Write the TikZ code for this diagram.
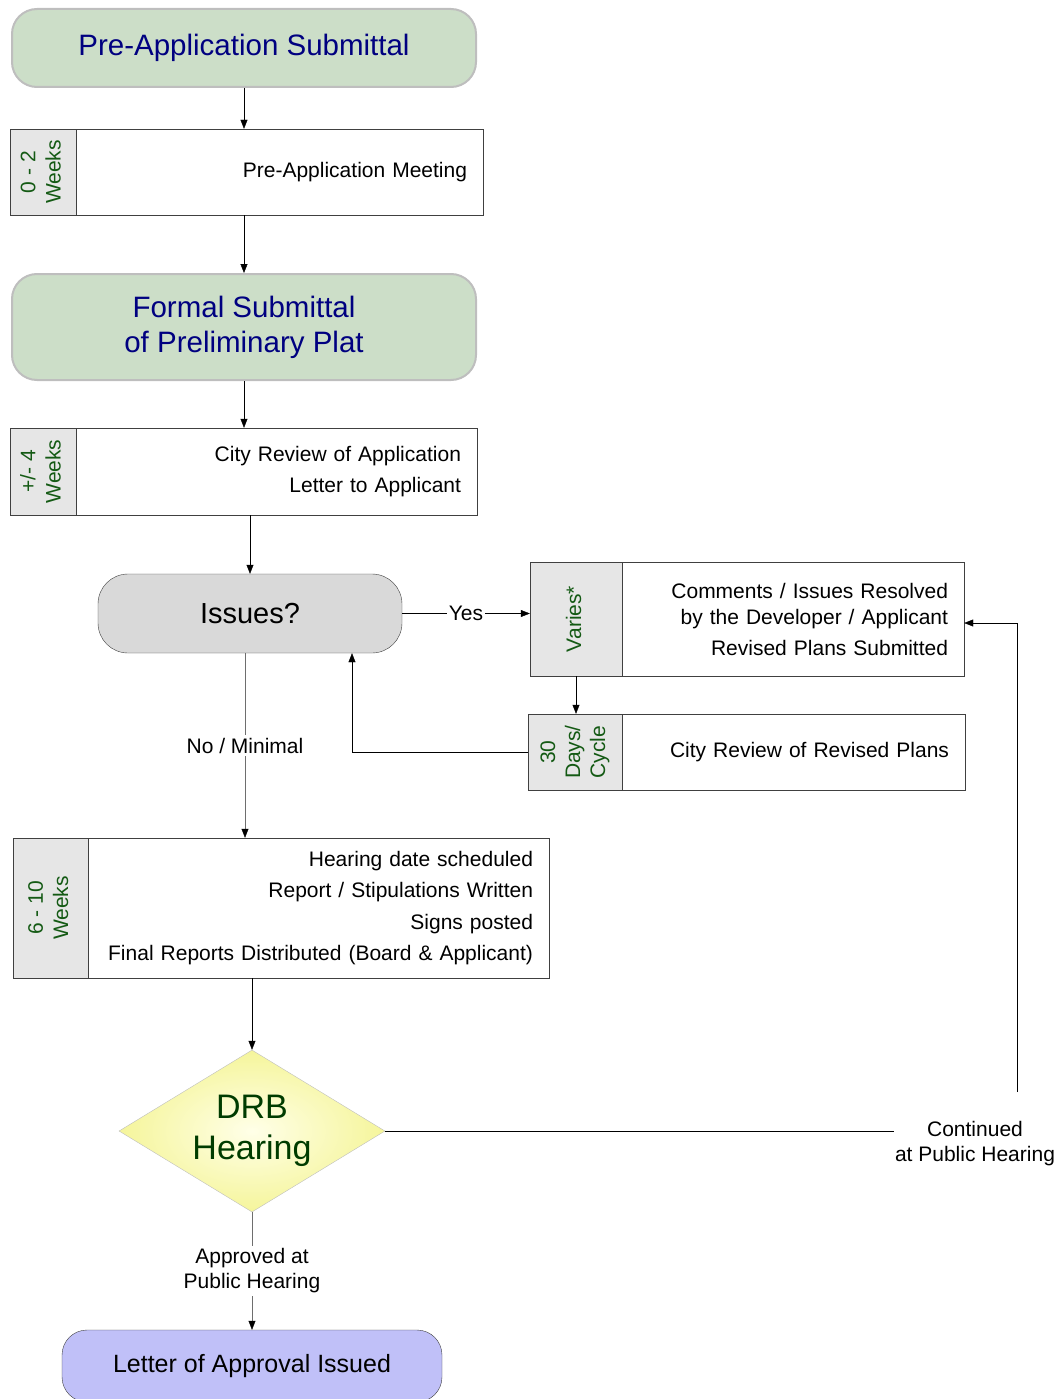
\documentclass[tikz,border=0pt]{standalone}
\usepackage{fontspec}
\setmainfont{Liberation Sans}
\usetikzlibrary{shapes.geometric,arrows.meta}
\definecolor{titleblue}{RGB}{0,0,128}
\definecolor{weekgreen}{RGB}{20,90,20}
\definecolor{drbgreen}{RGB}{0,60,0}
\definecolor{startfill}{RGB}{204,222,200}
\definecolor{startline}{RGB}{190,190,190}
\definecolor{sidefill}{RGB}{230,230,230}
\definecolor{askfill}{RGB}{217,217,217}
\definecolor{endfill}{RGB}{192,192,248}
\definecolor{boxline}{RGB}{64,64,64}
\definecolor{linkgray}{RGB}{110,110,110}
\newcommand{\sidetext}[1]{\rotatebox{90}{\fontsize{21}{25}\selectfont\begin{tabular}{@{}c@{}}#1\end{tabular}}}
\begin{document}
\begin{tikzpicture}[x=1pt,y=-1pt,
    every node/.style={font=\fontsize{21}{31}\selectfont},
    startbox/.style={rounded corners=25pt, fill=startfill, draw=startline, line width=2pt, text=titleblue, font=\fontsize{29.5}{35}\selectfont, align=center},
    sidebox/.style={draw=boxline, fill=sidefill, text=weekgreen, inner sep=0pt},
    stepbox/.style={draw=boxline, fill=white, align=right, inner xsep=16pt, inner ysep=0pt},
    arr/.style={-{Triangle[length=9pt,width=7pt,color=black]}},
    grayline/.style={draw=linkgray},
    lbl/.style={fill=white, inner xsep=2pt, inner ysep=3pt}]
    \path[use as bounding box, clip] (0,0) rectangle (1057,1399);
    % steps
    \node[startbox, minimum width=464pt, minimum height=78pt] (presub) at (244,48) {Pre-Application Submittal};
    \node[sidebox, minimum width=66pt, minimum height=86pt] (meetwk) at (43,172) {\sidetext{0 - 2\\Weeks}};
    \node[stepbox, text width=375pt, minimum height=86pt] (meet) at (279.5,172) {Pre-Application Meeting};
    \node[startbox, minimum width=464pt, minimum height=106pt] (formal) at (244,327) {Formal Submittal\\of Preliminary Plat};
    \node[sidebox, minimum width=66pt, minimum height=87pt] (reviewwk) at (43,471.5) {\sidetext{+/- 4\\Weeks}};
    \node[stepbox, text width=369pt, minimum height=87pt] (review) at (276.5,471.5) {City Review of Application\\Letter to Applicant};
    \node[draw=boxline, fill=askfill, rounded corners=30pt, minimum width=304pt, minimum height=79pt, font=\fontsize{29}{35}\selectfont] (issues) at (250,613.5) {Issues?};
    \node[sidebox, minimum width=92pt, minimum height=114pt] (varieswk) at (576,619) {\sidetext{Varies*}};
    \node[stepbox, text width=310pt, minimum height=114pt, font=\fontsize{21}{26}\selectfont] (resolve) at (793,619) {Comments / Issues Resolved\\by the Developer / Applicant\\[5pt]Revised Plans Submitted};
    \node[sidebox, minimum width=94pt, minimum height=76pt] (cyclewk) at (575,752) {\sidetext{30\\Days/\\Cycle}};
    \node[stepbox, text width=311pt, minimum height=76pt] (recheck) at (793.5,752) {City Review of Revised Plans};
    \node[sidebox, minimum width=75pt, minimum height=140pt] (hearwk) at (50.5,908) {\sidetext{6 - 10\\Weeks}};
    \node[stepbox, text width=429pt, minimum height=140pt, font=\fontsize{21}{31.5}\selectfont] (prep) at (318.5,908) {Hearing date scheduled\\Report / Stipulations Written\\Signs posted\\Final Reports Distributed (Board \& Applicant)};
    \node[diamond, draw=startline, inner color={rgb,255:red,255;green,255;blue,232}, outer color={rgb,255:red,245;green,245;blue,155}, minimum width=266pt, minimum height=162pt, inner sep=0pt, aspect=1.64, text=drbgreen, font=\fontsize{34}{41}\selectfont, align=center] (drb) at (252,1131) {DRB\\Hearing};
    \node[draw=boxline, fill=endfill, rounded corners=25pt, minimum width=380pt, minimum height=72pt, font=\fontsize{25}{30}\selectfont] (letter) at (252,1366) {Letter of Approval Issued};
    \node[align=center, inner sep=1pt, font=\fontsize{21}{25}\selectfont] (cont) at (975,1143.5) {Continued\\at Public Hearing};
    \coordinate (back) at (1017,1092);
    \coordinate (nofork) at ([xshift=-5pt]issues.south);
    % connectors
    \draw[arr] (presub.south) -- (presub.south |- meet.north);
    \draw[arr] (formal.north |- meet.south) -- (formal.north);
    \draw[arr] (formal.south) -- (formal.south |- review.north);
    \draw[arr] (issues.north |- review.south) -- (issues.north);
    \draw[arr] (issues.east) -- (issues.east -| varieswk.west) node[lbl, midway] {Yes};
    \draw[arr] (varieswk.south) -- (varieswk.south |- cyclewk.north);
    \draw[arr] (cyclewk.west) -| ([xshift=102pt]issues.south);
    \draw[arr, grayline] (nofork) -- (nofork |- prep.north) node[lbl, pos=0.5] {No / Minimal};
    \draw[arr] (drb.north |- prep.south) -- (drb.north);
    \draw (drb.east) -- (drb.east -| cont.west);
    \draw[arr] (back) |- ([yshift=-4pt]resolve.east);
    \draw[arr, grayline] (drb.south) -- (letter.north) node[lbl, midway, align=center, font=\fontsize{21}{25}\selectfont] {Approved at\\Public Hearing};
\end{tikzpicture}
\end{document}
